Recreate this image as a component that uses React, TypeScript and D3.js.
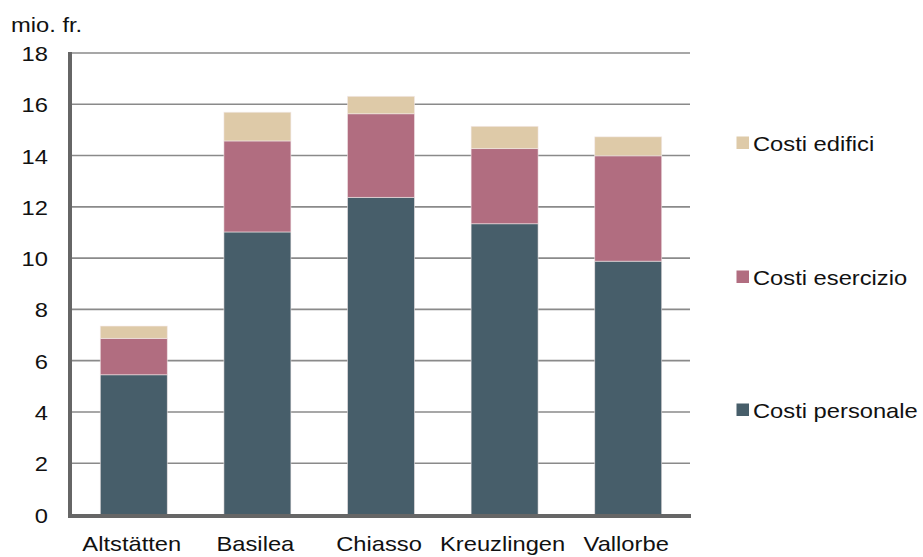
import React from "react";
import * as d3 from "d3";

const categories = ["Altstätten", "Basilea", "Chiasso", "Kreuzlingen", "Vallorbe"];
const costiPersonale = [5.45, 11.02, 12.37, 11.34, 9.88];
const costiEsercizio = [1.42, 3.55, 3.26, 2.93, 4.11];
const costiEdifici = [0.48, 1.12, 0.68, 0.87, 0.74];
const yTicks = [0, 2, 4, 6, 8, 10, 12, 14, 16, 18];

const seriesKeys = ["personale", "esercizio", "edifici"];
const seriesLabels: Record<string, string> = {
  personale: "Costi personale",
  esercizio: "Costi esercizio",
  edifici: "Costi edifici",
};
const seriesColors: Record<string, string> = {
  personale: "#475e6a",
  esercizio: "#b16d80",
  edifici: "#decaa8",
};

const W = 923;
const H = 557;
const FONT = "'Liberation Sans', Arial, Helvetica, sans-serif";
const SX = 1.13;

export default function App() {
  const rows = categories.map((c, i) => ({
    cat: c,
    personale: costiPersonale[i],
    esercizio: costiEsercizio[i],
    edifici: costiEdifici[i],
  }));

  const x = d3
    .scaleBand<string>()
    .domain(categories)
    .range([72, 690])
    .paddingInner(0.458)
    .paddingOuter(0.229);
  const y = d3.scaleLinear().domain([0, 18]).range([514.5, 53]);

  const stacked = d3.stack<any>().keys(seriesKeys)(rows);

  const legendY: Record<string, number> = { edifici: 143, esercizio: 277, personale: 410 };

  return (
    <svg
      width={W}
      height={H}
      style={{ position: "absolute", left: 0, top: 0, background: "#fff" }}
      fontFamily={FONT}
    >
      {/* grid lines */}
      {yTicks
        .filter((t) => t > 0)
        .map((t) => (
          <line
            key={t}
            x1={72}
            x2={690}
            y1={y(t)}
            y2={y(t)}
            stroke="#8a8a8a"
            strokeWidth={1.6}
          />
        ))}

      {/* stacked bars */}
      {stacked.map((layer) => (
        <g key={layer.key} fill={seriesColors[layer.key]}>
          {layer.map((d, i) => (
            <rect
              key={i}
              x={x(categories[i])}
              width={x.bandwidth()}
              y={y(d[1])}
              height={y(d[0]) - y(d[1])}
              stroke="#f3eaea"
              strokeOpacity={0.7}
              strokeWidth={0.8}
            />
          ))}
        </g>
      ))}

      {/* axes */}
      <line x1={70} x2={70} y1={52} y2={518} stroke="#666" strokeWidth={4} />
      <line x1={68} x2={691} y1={516} y2={516} stroke="#666" strokeWidth={4} />

      {/* y tick labels */}
      {yTicks.map((t) => (
        <text
          key={t}
          transform={`translate(48,${y(t) + 8}) scale(${SX},1)`}
          textAnchor="end"
          fontSize={21}
          fill="#111"
        >
          {t}
        </text>
      ))}

      <text transform={`translate(11,32) scale(${SX},1)`} fontSize={21} fill="#111">
        mio. fr.
      </text>

      {/* category labels */}
      {categories.map((c) => (
        <text
          key={c}
          transform={`translate(${(x(c) as number) + x.bandwidth() / 2 - 2},551) scale(${SX},1)`}
          textAnchor="middle"
          fontSize={21}
          fill="#111"
        >
          {c}
        </text>
      ))}

      {/* legend */}
      {seriesKeys.map((k) => (
        <g key={k}>
          <rect x={736.5} y={legendY[k] - 6.5} width={12.5} height={12.5} fill={seriesColors[k]} />
          <text
            transform={`translate(753,${legendY[k] + 7.5}) scale(${SX},1)`}
            fontSize={21}
            fill="#111"
          >
            {seriesLabels[k]}
          </text>
        </g>
      ))}
    </svg>
  );
}
